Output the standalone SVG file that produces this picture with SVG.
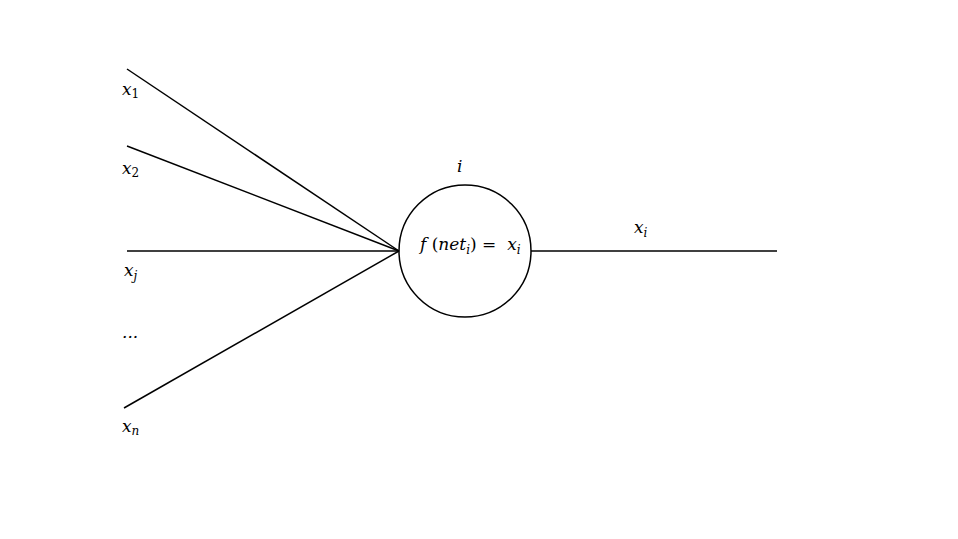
<svg xmlns="http://www.w3.org/2000/svg" width="958" height="539" viewBox="0 0 958 539">
<style>
.ln{stroke:#000;stroke-width:1.5;fill:none}
.t{font-family:"DejaVu Serif","Liberation Serif",serif;font-style:italic;font-size:17px;fill:#000}
.s{font-size:12px;font-style:normal}
.si{font-size:12px}
</style>
<rect width="958" height="539" fill="#fff"/>
<g id="connectors">
<line class="ln" x1="127" y1="69" x2="399" y2="251"/>
<line class="ln" x1="127" y1="146" x2="399" y2="251"/>
<line class="ln" x1="127" y1="251" x2="399" y2="251"/>
<line class="ln" x1="124" y1="408" x2="399" y2="251"/>
<line class="ln" x1="531" y1="251" x2="777" y2="251"/>
</g>
<g id="node-neuron">
<circle class="ln" cx="465" cy="251" r="66"/>
<text class="t" x="457" y="172">i</text>
<text class="t" x="420" y="250" xml:space="preserve">f<tspan font-style="normal"> (</tspan>net<tspan class="si" dy="4">i</tspan><tspan dy="-4" font-style="normal">) =  </tspan>x<tspan class="si" dy="4">i</tspan></text>
</g>
<g id="node-x1"><text class="t" x="122" y="95">x<tspan class="s" dy="3">1</tspan></text></g>
<g id="node-x2"><text class="t" x="122" y="174">x<tspan class="s" dy="3">2</tspan></text></g>
<g id="node-xj"><text class="t" x="124" y="276">x<tspan class="si" dy="4">j</tspan></text></g>
<g id="node-dots"><text class="t" x="122" y="338" font-style="normal" font-size="11">...</text></g>
<g id="node-xn"><text class="t" x="122" y="432">x<tspan class="si" dy="3">n</tspan></text></g>
<g id="node-out"><text class="t" x="634" y="233">x<tspan class="si" dy="4">i</tspan></text></g>
</svg>
